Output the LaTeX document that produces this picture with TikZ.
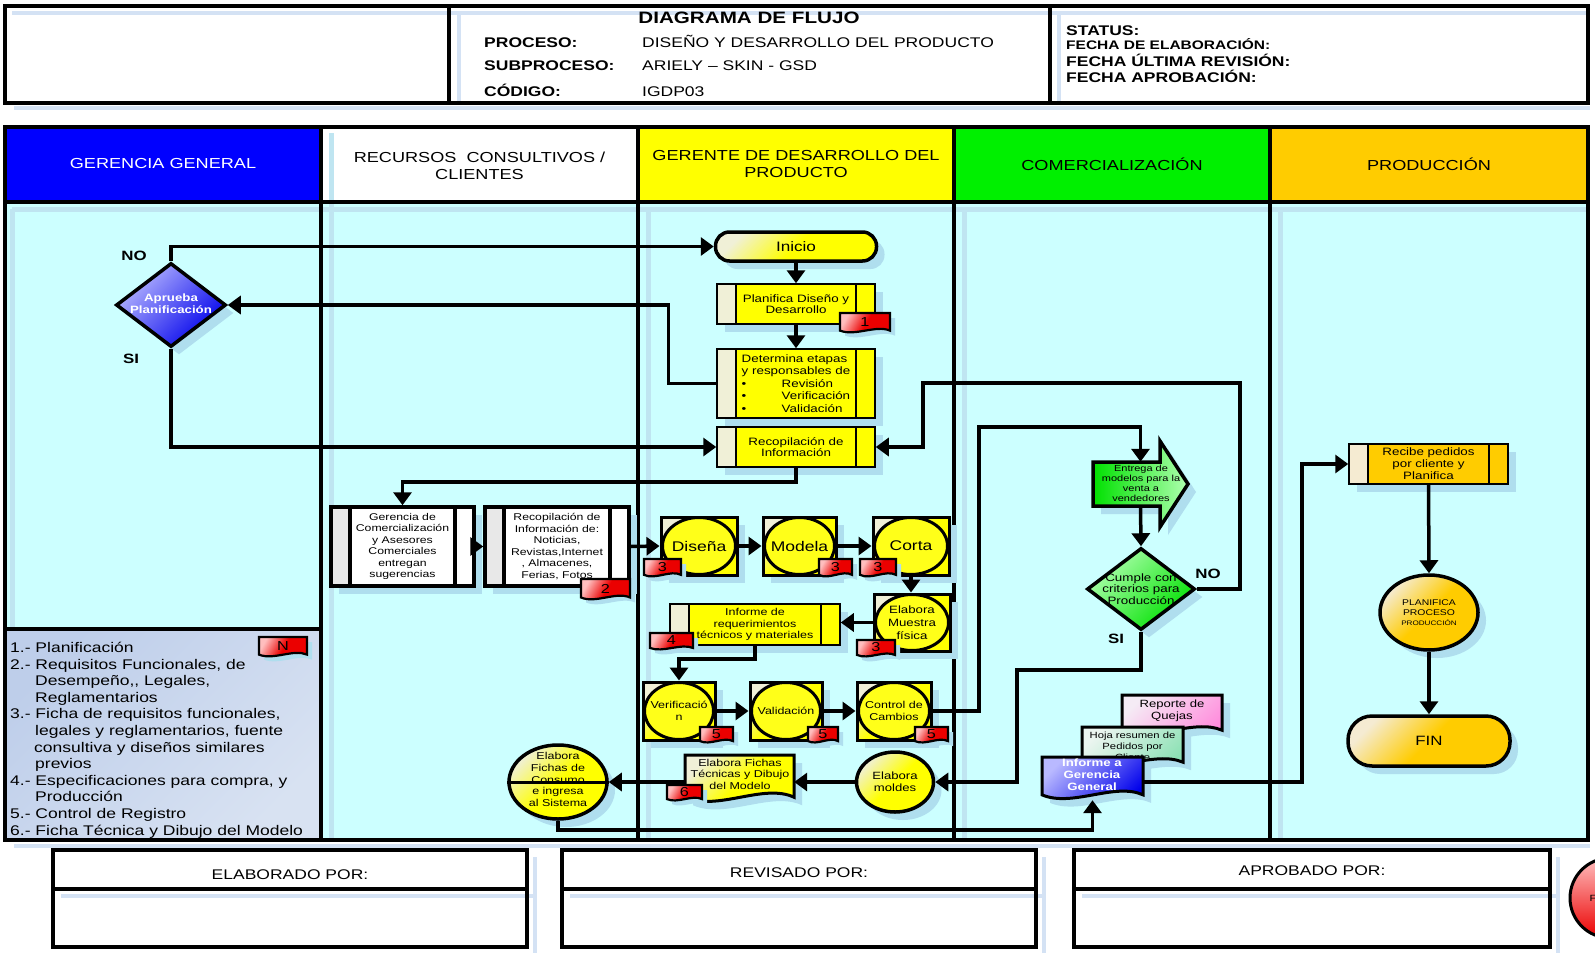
\documentclass[tikz,border=0pt]{standalone}
\usepackage{fontspec}
\setmainfont[FakeStretch=1.25]{Liberation Sans}
\usetikzlibrary{arrows.meta,shapes.geometric,shadows,calc}
\definecolor{lanebody}{RGB}{204,255,255}
\definecolor{shadowc}{RGB}{175,222,238}
\definecolor{paleln}{RGB}{212,226,244}
\definecolor{laneblue}{RGB}{0,0,255}
\definecolor{laneyel}{RGB}{255,255,0}
\definecolor{lanegrn}{RGB}{0,240,0}
\definecolor{laneorg}{RGB}{255,204,0}
\definecolor{ylw}{RGB}{255,255,0}
\definecolor{ylwl}{RGB}{240,240,215}
\definecolor{orgl}{RGB}{245,235,210}
\definecolor{grn}{RGB}{0,225,0}
\definecolor{grnl}{RGB}{175,255,175}
\definecolor{blu}{RGB}{0,0,235}
\definecolor{blul}{RGB}{185,185,255}
\definecolor{redt}{RGB}{235,0,0}
\definecolor{redl}{RGB}{255,190,190}
\definecolor{pinkd}{RGB}{255,140,220}
\definecolor{pinkl}{RGB}{245,235,245}
\definecolor{mintd}{RGB}{140,225,180}
\definecolor{mintl}{RGB}{235,245,240}
\definecolor{legd}{RGB}{190,206,234}
\definecolor{legl}{RGB}{216,226,242}
\definecolor{grayl}{RGB}{232,232,232}

\newcommand\fz[2]{\fontsize{#1}{#2}\selectfont}

\tikzset{
 conn/.style={line width=3.5pt,-{Triangle[length=13pt,width=18pt]}},
 shd/.style={drop shadow={shadow xshift=8pt,shadow yshift=-8pt,fill=shadowc,opacity=1}},
 tshd/.style={drop shadow={shadow xshift=5pt,shadow yshift=-5pt,fill=shadowc,opacity=1}},
 paleline/.style={line width=4pt,draw=paleln},
 laneshade/.style={line width=5pt,draw=shadowc!80!white},
 yfill/.style={top color=ylwl,bottom color=ylw,middle color=ylw,shading angle=45},
 ofill/.style={top color=orgl,bottom color=laneorg,middle color=laneorg,shading angle=45},
 bfill/.style={top color=blul,bottom color=blu,shading angle=45},
 gfill/.style={top color=grnl,bottom color=grn,shading angle=45},
 rfill/.style={top color=redl,bottom color=redt,middle color=redt,shading angle=60},
 subp/.style 2 args={draw,line width=#2,rectangle,inner sep=0pt,align=center,
   path picture={
    \fill[#1] (path picture bounding box.north west) rectangle ([xshift=19pt]path picture bounding box.south west);
    \draw[line width=#2] ([xshift=19pt]path picture bounding box.north west) -- ([xshift=19pt]path picture bounding box.south west);
    \draw[line width=#2] ([xshift=-19pt]path picture bounding box.north east) -- ([xshift=-19pt]path picture bounding box.south east);}},
 txt/.style={inner sep=0pt,align=center},
 lbl/.style={inner sep=0pt,font=\bfseries\fz{13.5}{15}},
 hdt/.style={inner sep=0pt,align=center,font=\fz{14.5}{17}},
 hkey/.style={inner sep=0pt,anchor=base west,font=\bfseries\fz{14}{16}},
 hval/.style={inner sep=0pt,anchor=base west,font=\fz{14}{16}},
}

\newcommand\docpath[5]{%
 \path[#5] (#1,#2) -- (#3,#2) -- (#3,{#4-0.12*(#4-#2)})
   .. controls ({#1+0.72*(#3-#1)},{#4-0.42*(#4-#2)}) and ({#1+0.3*(#3-#1)},{#4+0.18*(#4-#2)}) .. (#1,{#4-0.12*(#4-#2)}) -- cycle;}

\newcommand\redtag[6]{%
 \docpath{#2}{#3}{#4}{#5}{draw,line width=2.2pt,tshd,rfill}
 \node[inner sep=0pt,font=\fz{13}{14}] (#1) at ({(#2+#4)/2},{(#3+#5)/2-1}) {#6};}

\newcommand\procsq[7]{%
 \node[draw,line width=3pt,minimum width=#4,minimum height=#5,inner sep=0pt,shd,yfill] (#1) at (#2,#3) {};
 \node[ellipse,draw,line width=3pt,minimum width=#4-3,minimum height=#5-1,inner sep=0pt,fill=ylw!90!white] (#1c) at (#2,#3) {};
 \node[txt,font=#6] (#1t) at (#2,#3) {#7};}

\begin{document}
\begin{tikzpicture}[x=1pt,y=-1pt]
\useasboundingbox (0,0) rectangle (1595,953);
\clip (0,0) rectangle (1595,953);
\fill[white] (0,0) rectangle (1595,953);

% ---------- top header ----------
\draw[paleline] (12,13) -- (1586,13);
\draw[paleline] (459,13) -- (459,101);
\draw[paleline] (1059,13) -- (1059,101);
\draw[paleline] (14,108) -- (1590,108);
\draw[line width=4pt] (5,6) rectangle (1588,103);
\draw[line width=4pt] (449,6) -- (449,103);
\draw[line width=4pt] (1050,6) -- (1050,103);
\node[inner sep=0pt,anchor=base,font=\bfseries\fz{16.5}{19}] (title) at (749,23.5) {DIAGRAMA DE FLUJO};
\node[hkey] (kproc) at (484,47) {PROCESO:};
\node[hval] (vproc) at (642,47) {DISEÑO Y DESARROLLO DEL PRODUCTO};
\node[hkey] (ksub) at (484,70) {SUBPROCESO:};
\node[hval] (vsub) at (642,70) {ARIELY – SKIN - GSD};
\node[hkey] (kcod) at (484,96) {CÓDIGO:};
\node[hval] (vcod) at (642,96) {IGDP03};
\node[hkey] (kstat) at (1066,35) {STATUS:};
\node[hkey,font=\bfseries\fz{12.4}{14}] (kfe) at (1066,49.5) {FECHA DE ELABORACIÓN:};
\node[hkey] (kfr) at (1066,66) {FECHA ÚLTIMA REVISIÓN:};
\node[hkey] (kfa) at (1066,82) {FECHA APROBACIÓN:};

% ---------- swimlanes ----------
\fill[lanebody] (5,202) rectangle (1588,840);
\fill[laneblue] (5,127) rectangle (321,202);
\fill[white] (321,127) rectangle (638,202);
\fill[laneyel] (638,127) rectangle (954,202);
\fill[lanegrn] (954,127) rectangle (1270,202);
\fill[laneorg] (1270,127) rectangle (1588,202);
\draw[laneshade] (12,209) -- (1586,209);
\draw[laneshade] (12,209) -- (12,627);
\draw[laneshade] (331,133) -- (331,838);
\foreach \xx in {648,964,1280} \draw[laneshade] (\xx,209) -- (\xx,838);
\draw[paleline] (14,846) -- (1590,846);
\draw[line width=3.5pt] (5,127) rectangle (1588,840);
\foreach \xx in {321,638,954,1270} \draw[line width=3.5pt] (\xx,127) -- (\xx,840);
\draw[line width=3.5pt] (5,202) -- (1588,202);
\node[hdt,text=white] (h1) at (163,164) {GERENCIA GENERAL};
\node[hdt] (h2) at (479.5,165.5) {RECURSOS\ \ CONSULTIVOS /\\CLIENTES};
\node[hdt] (h3) at (796,164) {GERENTE DE DESARROLLO DEL\\PRODUCTO};
\node[hdt] (h4) at (1112,164) {COMERCIALIZACIÓN};
\node[hdt] (h5) at (1429,164) {PRODUCCIÓN};

% ---------- legend ----------
\draw[line width=3.5pt,top color=legd,bottom color=legl,shading angle=45] (5,629) rectangle (321,840);
\node[anchor=north west,inner sep=0pt,align=left,font=\fz{14}{16.6}] (legend) at (10,642) {1.- Planificación\\2.- Requisitos Funcionales, de\\\hspace*{25pt}Desempeño,{},{} Legales,\\\hspace*{25pt}Reglamentarios\\3.- Ficha de requisitos funcionales,\\\hspace*{25pt}legales y reglamentarios, fuente\\\hspace*{24pt}consultiva y diseños similares\\\hspace*{25pt}previos\\4.- Especificaciones para compra, y\\\hspace*{25pt}Producción\\5.- Control de Registro\\6.- Ficha Técnica y Dibujo del Modelo};
\redtag{tgN}{259}{637}{307}{657}{N}

% ---------- footer ----------
\foreach \xa/\xb in {53/527,562/1036,1074/1550} {
  \draw[paleline] (\xb+8,857) -- (\xb+8,953);
  \fill[white] (\xa,850) rectangle (\xb,947);
  \draw[paleline] (\xa+8,896) -- (\xb+10,896);
  \draw[line width=3.5pt] (\xa,850) rectangle (\xb,947);
  \draw[line width=3.5pt] (\xa,889) -- (\xb,889);
}
\node[txt,font=\fz{14}{16}] (elab) at (290,875) {ELABORADO POR:};
\node[txt,font=\fz{14}{16}] (revi) at (799,873) {REVISADO POR:};
\node[txt,font=\fz{14}{16}] (apro) at (1312,871) {APROBADO POR:};
\node[circle,draw,line width=3pt,minimum size=80,top color=redl,bottom color=redt] (redc) at (1610,898) {};
\node[txt,font=\fz{9}{10}] (redlbl) at (1593,898) {F};

% ---------- Gerencia General ----------
\node[diamond,draw,line width=3.5pt,minimum width=110,minimum height=84,inner sep=0pt,shd,bfill] (apr) at (171,305) {};
\node[txt,text=white,font=\bfseries\fz{10.6}{12}] (aprt) at (171,304) {Aprueba\\Planificación};
\node[lbl] (lno1) at (134,256) {NO};
\node[lbl] (lsi1) at (131,359) {SI};

% ---------- Gerente de desarrollo ----------
\node[draw,line width=3.5pt,rounded corners=14pt,minimum width=161,minimum height=29,shd,yfill,font=\fz{13.7}{15},inner sep=0pt] (inicio) at (796,246.5) {Inicio};
\node[subp={ylwl}{1.5pt},fill=ylw,minimum width=158,minimum height=40,shd,font=\fz{10.7}{11.5}] (plan) at (796,304) {Planifica Diseño y\\Desarrollo};
\node[subp={ylwl}{1.5pt},fill=ylw,minimum width=158,minimum height=69,shd,font=\fz{10.7}{12.4},align=left] (det) at (796,383.5) {Determina etapas\\y responsables de\\\makebox[40pt][l]{\textbullet}Revisión\\\makebox[40pt][l]{\textbullet}Verificación\\\makebox[40pt][l]{\textbullet}Validación};
\node[subp={ylwl}{1.5pt},fill=ylw,minimum width=158,minimum height=40,shd,font=\fz{10.7}{11.5}] (recop) at (796,447) {Recopilación de\\Información};

% ---------- Recursos consultivos ----------
\node[subp={grayl}{3.5pt},fill=white,minimum width=143,minimum height=79,shd,font=\fz{9.8}{11.5}] (gercom) at (402.5,546.5) {Gerencia de\\Comercialización\\y Asesores\\Comerciales\\entregan\\sugerencias};
\node[subp={grayl}{3.5pt},fill=white,minimum width=144,minimum height=79,shd,font=\fz{9.8}{11.5}] (recinfo) at (557,546.5) {Recopilación de\\Información de:\\Noticias,\\Revistas,Internet\\, Almacenes,\\Ferias, Fotos};

% ---------- process squares ----------
\procsq{dis}{699}{546}{76}{58}{\fz{14}{16}}{Diseña}
\procsq{mod}{799.5}{546}{73}{58}{\fz{14}{16}}{Modela}
\procsq{cor}{911}{546}{76}{58}{\fz{14}{16}}{Corta}
\procsq{mue}{912}{622.5}{76}{57}{\fz{10.6}{13}}{Elabora\\Muestra\\física}
\procsq{ver}{679}{711}{72}{58}{\fz{10}{12}}{Verificació\\n}
\procsq{val}{786}{711}{72}{58}{\fz{10}{12}}{Validación}
\procsq{ctl}{894}{711}{74}{58}{\fz{10}{12.5}}{Control de\\Cambios}
\node[subp={ylwl}{1.5pt},fill=ylw,minimum width=170,minimum height=41,shd,font=\fz{10}{11.5}] (inreq) at (755,624.5) {Informe de\\requerimientos\\técnicos y materiales};

\node[ellipse,draw,line width=3.5pt,minimum width=77,minimum height=60,inner sep=0pt,shd,yfill,align=center,font=\fz{10.5}{12}] (moldes) at (895,782) {Elabora\\moldes};
\docpath{685}{755}{794}{803}{draw,line width=3pt,shd,yfill}
\node[inner sep=0pt,minimum width=109,minimum height=48] (ftec) at (739.5,779) {};
\node[txt,font=\fz{10}{11.5}] (ftect) at (740,774) {Elabora Fichas\\Técnicas y Dibujo\\del Modelo};
\node[ellipse,draw,line width=3.5pt,minimum width=98,minimum height=74,inner sep=0pt,shd,yfill] (fc) at (558,782) {};
\node[txt,font=\fz{10}{11.7}] (fct) at (558,779.5) {Elabora\\Fichas de\\Consumo\\e ingresa\\al Sistema};

% ---------- Comercializacion ----------
\path[draw,line width=3.5pt,shd,left color=grn,right color=grnl] (1093,462) -- (1160,462) -- (1160,441) -- (1188,484) -- (1160,527) -- (1160,506) -- (1093,506) -- cycle;
\node[inner sep=0pt,minimum width=95,minimum height=44] (entrega) at (1140.5,484) {};
\node[txt,font=\fz{8.8}{10}] (entregat) at (1141,483.5) {Entrega de\\modelos para la\\venta a\\vendedores};
\node[diamond,draw,line width=3.5pt,minimum width=108,minimum height=82,inner sep=0pt,shd,gfill] (cump) at (1141,589) {};
\node[txt,font=\fz{10.7}{11.7}] (cumpt) at (1141,589) {Cumple con\\criterios para\\Producción};
\node[lbl] (lno2) at (1208,574) {NO};
\node[lbl] (lsi2) at (1116,639) {SI};
\docpath{1122}{695}{1222}{735}{draw,line width=3pt,shd,top color=pinkl,bottom color=pinkd,shading angle=45}
\node[txt,font=\fz{10.5}{12}] (quejas) at (1172,711) {Reporte de\\Quejas};
\docpath{1082}{727}{1183}{767}{draw,line width=3pt,shd,top color=mintl,bottom color=mintd,shading angle=45}
\node[txt,font=\fz{9}{11}] (hoja) at (1132.5,746) {Hoja resumen de\\Pedidos por\\Cliente};
\docpath{1042}{757}{1143}{800}{draw,line width=3pt,shd,bfill}
\node[inner sep=0pt,minimum width=101,minimum height=43] (informe) at (1092.5,778.5) {};
\node[txt,text=white,font=\bfseries\fz{10.6}{12}] (informet) at (1092,775) {Informe a\\Gerencia\\General};

% ---------- Produccion ----------
\node[subp={orgl}{1.5pt},fill=laneorg,minimum width=159,minimum height=40,shd,font=\fz{10.7}{12}] (recibe) at (1428.5,464) {Recibe pedidos\\por cliente y\\Planifica};
\node[ellipse,draw,line width=3.5pt,minimum width=98,minimum height=75,inner sep=0pt,shd,ofill,align=center,font=\fz{8.3}{10}] (pp) at (1429,612.5) {PLANIFICA\\PROCESO\\{\fz{6.5}{8}PRODUCCIÓN}};
\node[draw,line width=3.5pt,rounded corners=24pt,minimum width=162,minimum height=50,inner sep=0pt,shd,ofill,font=\fz{13.5}{15}] (fin) at (1429,741) {FIN};

% ---------- tags ----------
\redtag{tg1}{840}{313}{890}{333}{1}
\redtag{tg2}{581}{579}{630}{600}{2}
\redtag{tg3a}{644}{559}{681}{577}{3}
\redtag{tg3b}{819}{559}{852}{577}{3}
\redtag{tg3c}{860}{559}{896}{577}{3}
\redtag{tg3d}{857}{640}{895}{657}{3}
\redtag{tg4}{650}{633}{693}{650}{4}
\redtag{tg5a}{700}{727}{733}{743}{5}
\redtag{tg5b}{808}{727}{838}{743}{5}
\redtag{tg5c}{915}{727}{948}{743}{5}
\redtag{tg6}{667}{785}{702}{801}{6}

% ---------- connectors ----------
\draw[conn] (apr.north) |- (inicio.west);
\draw[conn] (det.west) -- ++(-48,0) |- (apr.east);
\draw[conn] (apr.south) |- (recop.west);
\draw[conn] (inicio.south) -- (plan.north);
\draw[conn] (plan.south) -- (det.north);
\draw[conn] (recop.south) -- ++(0,14) -| (gercom.north);
\draw[conn] (gercom.east) -- (recinfo.west);
\draw[conn] (recinfo.east) -- (dis.west);
\draw[conn] (dis.east) -- (mod.west);
\draw[conn] (mod.east) -- (cor.west);
\draw[conn] (cor.south) -- (cor.south |- mue.north);
\draw[conn] (mue.west) -- (mue.west -| inreq.east);
\draw[conn] (inreq.south) -- ++(0,13) -| (ver.north);
\draw[conn] (ver.east) -- (val.west);
\draw[conn] (val.east) -- (ctl.west);
\draw[conn] (ctl.east) -- (979,711) |- (1140.5,427) -- (entrega.north);
\draw[conn] (entrega.south) -- (cump.north);
\draw[conn] (cump.east) -- (1240,589) |- (923,383) |- (recop.east);
\draw[conn] (cump.south) -- ++(0,38) -| (1017,782) -- (moldes.east);
\draw[conn] (moldes.west) -- (ftec.east |- moldes.west);
\draw[conn] (ftec.west |- moldes.west) -- (fc.east);
\draw[line width=3pt] (fc.west) -- (fc.east);
\draw[conn] (fc.south) -- ++(0,9) -| (informe.south);
\draw[conn] ([yshift=-3.5pt]informe.east) -- (1302,782) |- (recibe.west);
\draw[conn] (recibe.south) -- (pp.north);
\draw[conn] (pp.south) -- (fin.north);
\end{tikzpicture}
\end{document}
